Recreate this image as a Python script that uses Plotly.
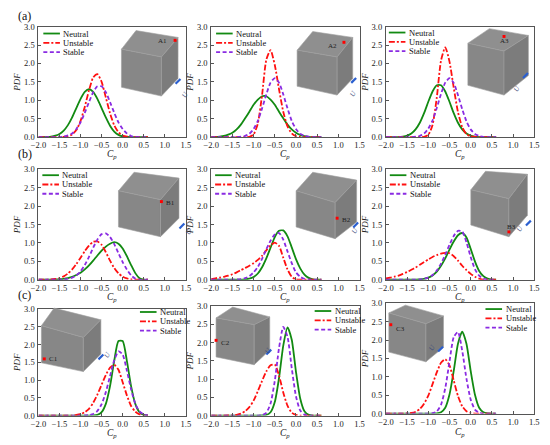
import plotly.graph_objects as go
from plotly.subplots import make_subplots

# the page puts the figure 8 px in from the top-left corner,
# so the figure is 542x437 and every position below is given in window pixels
OFF = 8
FW, FH = 550 - OFF, 445 - OFF

# Cp grid shared by every curve
CP = [-2.0, -1.9, -1.8, -1.7, -1.6, -1.5, -1.4, -1.3, -1.2, -1.1, -1.0, -0.9, -0.8,
      -0.7, -0.6, -0.5, -0.4, -0.3, -0.2, -0.1, 0.0, 0.1, 0.2, 0.3, 0.4, 0.5, 0.6]

# (a) roof points A1-A3
a1_neutral = [0, 0, 0.005, 0.014, 0.037, 0.086, 0.176, 0.325, 0.535, 0.79, 1.04, 1.23, 1.30,
              1.23, 1.04, 0.79, 0.535, 0.31, 0.15, 0.06, 0.02, 0.005, 0, 0, 0, 0, 0]
a1_unstable = [0, 0, 0, 0, 0, 0, 0.005, 0.02, 0.072, 0.19, 0.44, 0.82, 1.27,
               1.62, 1.71, 1.50, 1.08, 0.65, 0.32, 0.13, 0.045, 0.013, 0, 0, 0, 0, 0]
a1_stable = [0, 0, 0, 0, 0, 0, 0.016, 0.044, 0.10, 0.22, 0.40, 0.66, 0.95,
             1.22, 1.38, 1.38, 1.22, 0.95, 0.66, 0.40, 0.22, 0.10, 0.03, 0.005, 0, 0, 0]

a2_neutral = [0.0025, 0.006, 0.015, 0.032, 0.065, 0.12, 0.21, 0.34, 0.51, 0.69, 0.88, 1.02, 1.11,
              1.11, 1.02, 0.88, 0.69, 0.51, 0.34, 0.21, 0.12, 0.06, 0.025, 0.008, 0, 0, 0]
a2_unstable = [0, 0, 0, 0, 0, 0, 0, 0, 0, 0.008, 0.073, 0.37, 1.14,
               2.10, 2.36, 1.96, 1.30, 0.69, 0.29, 0.10, 0.026, 0.005, 0, 0, 0, 0, 0]
a2_stable = [0, 0, 0, 0, 0, 0, 0, 0.01, 0.032, 0.09, 0.22, 0.44, 0.78,
             1.16, 1.48, 1.60, 1.48, 1.16, 0.78, 0.44, 0.22, 0.09, 0.032, 0.01, 0, 0, 0]

a3_neutral = [0, 0, 0, 0, 0.014, 0.04, 0.097, 0.21, 0.39, 0.65, 0.96, 1.24, 1.41,
              1.41, 1.24, 0.96, 0.65, 0.39, 0.21, 0.097, 0.04, 0.014, 0, 0, 0, 0, 0]
a3_unstable = [0, 0, 0, 0, 0, 0, 0, 0, 0, 0.007, 0.06, 0.33, 1.07,
               2.08, 2.44, 2.05, 1.34, 0.68, 0.27, 0.08, 0.02, 0.004, 0, 0, 0, 0, 0]
a3_stable = [0, 0, 0, 0, 0, 0, 0, 0.012, 0.035, 0.095, 0.23, 0.45, 0.79,
             1.17, 1.48, 1.60, 1.47, 1.14, 0.76, 0.43, 0.21, 0.085, 0.03, 0.008, 0, 0, 0]

# (b) side-face points B1-B3
b1_neutral = [0, 0, 0.002, 0.004, 0.007, 0.014, 0.026, 0.046, 0.077, 0.13, 0.19, 0.28, 0.39,
              0.52, 0.66, 0.79, 0.90, 0.98, 1.02, 0.98, 0.85, 0.64, 0.40, 0.18, 0.04, 0, 0]
b1_unstable = [0, 0, 0.004, 0.01, 0.022, 0.047, 0.093, 0.17, 0.28, 0.43, 0.60, 0.78, 0.93,
               1.03, 1.04, 0.95, 0.75, 0.52, 0.32, 0.175, 0.083, 0.035, 0.013, 0.004, 0, 0, 0]
b1_stable = [0, 0, 0, 0, 0, 0.003, 0.01, 0.024, 0.058, 0.12, 0.23, 0.40, 0.62,
             0.87, 1.09, 1.24, 1.26, 1.16, 0.97, 0.72, 0.48, 0.28, 0.12, 0.03, 0, 0, 0]

b2_neutral = [0, 0, 0, 0, 0, 0, 0, 0, 0.009, 0.028, 0.074, 0.17, 0.34,
              0.58, 0.87, 1.16, 1.33, 1.34, 1.18, 0.88, 0.56, 0.31, 0.14, 0.05, 0.01, 0, 0]
b2_unstable = [0.02, 0.04, 0.06, 0.08, 0.11, 0.15, 0.20, 0.26, 0.32, 0.38, 0.45, 0.54, 0.65,
               0.80, 0.93, 1.01, 0.92, 0.60, 0.28, 0.08, 0.01, 0, 0, 0, 0, 0, 0]
b2_stable = [0, 0, 0, 0, 0, 0, 0.006, 0.017, 0.043, 0.097, 0.20, 0.35, 0.57,
             0.83, 1.06, 1.23, 1.27, 1.09, 0.77, 0.45, 0.20, 0.08, 0.024, 0.005, 0, 0, 0]

b3_neutral = [0, 0, 0, 0, 0, 0, 0, 0.003, 0.01, 0.024, 0.056, 0.116, 0.22,
              0.38, 0.58, 0.82, 1.04, 1.21, 1.27, 1.15, 0.84, 0.50, 0.24, 0.097, 0.03, 0.005, 0]
b3_unstable = [0.04, 0.058, 0.084, 0.115, 0.158, 0.21, 0.27, 0.33, 0.41, 0.48, 0.55, 0.62, 0.67,
               0.71, 0.73, 0.72, 0.64, 0.52, 0.38, 0.26, 0.16, 0.08, 0.03, 0, 0, 0, 0]
b3_stable = [0, 0, 0, 0, 0, 0, 0, 0.003, 0.009, 0.025, 0.059, 0.128, 0.25,
             0.44, 0.68, 0.95, 1.19, 1.33, 1.31, 1.02, 0.62, 0.29, 0.11, 0.03, 0.005, 0, 0]

# (c) corner points C1-C3
c1_neutral = [0, 0, 0, 0, 0, 0, 0, 0, 0, 0, 0, 0, 0,
              0.003, 0.02, 0.096, 0.33, 0.83, 1.54, 2.10, 2.10, 1.54, 0.83, 0.33, 0.096, 0.02, 0.003]
c1_unstable = [0, 0, 0, 0, 0, 0, 0, 0, 0, 0.016, 0.04, 0.094, 0.19,
               0.36, 0.59, 0.87, 1.14, 1.35, 1.43, 1.29, 0.94, 0.57, 0.27, 0.11, 0.035, 0.009, 0]
c1_stable = [0, 0, 0, 0, 0, 0, 0, 0, 0, 0, 0, 0.003, 0.012,
             0.043, 0.13, 0.32, 0.66, 1.11, 1.56, 1.81, 1.72, 1.27, 0.74, 0.33, 0.12, 0.03, 0.005]

c2_neutral = [0, 0, 0, 0, 0, 0, 0, 0, 0, 0, 0, 0, 0.002,
              0.015, 0.09, 0.37, 1.03, 1.92, 2.42, 2.08, 1.20, 0.47, 0.12, 0.02, 0, 0, 0]
c2_unstable = [0, 0, 0, 0, 0.002, 0.008, 0.021, 0.052, 0.12, 0.23, 0.41, 0.67, 0.95,
               1.21, 1.38, 1.40, 1.10, 0.63, 0.27, 0.08, 0.02, 0, 0, 0, 0, 0, 0]
c2_stable = [0, 0, 0, 0, 0, 0, 0, 0, 0, 0, 0, 0, 0.012,
             0.077, 0.33, 0.95, 1.85, 2.43, 2.16, 1.30, 0.53, 0.14, 0.027, 0, 0, 0, 0]

c3_neutral = [0, 0, 0, 0, 0, 0, 0, 0, 0, 0, 0, 0, 0.006,
              0.037, 0.16, 0.52, 1.16, 1.90, 2.23, 1.90, 1.16, 0.52, 0.16, 0.037, 0.006, 0, 0]
c3_unstable = [0, 0, 0, 0, 0, 0.006, 0.018, 0.052, 0.126, 0.27, 0.49, 0.80, 1.12,
               1.38, 1.48, 1.31, 0.90, 0.48, 0.20, 0.065, 0.016, 0, 0, 0, 0, 0, 0]
c3_stable = [0, 0, 0, 0, 0, 0, 0, 0, 0, 0, 0.002, 0.011, 0.06,
             0.24, 0.69, 1.41, 2.08, 2.22, 1.71, 0.95, 0.38, 0.11, 0.023, 0, 0, 0, 0]

SERIES = ["Neutral", "Unstable", "Stable"]
POINTS = ["A1", "A2", "A3", "B1", "B2", "B3", "C1", "C2", "C3"]
X_TICKS = [-2.0, -1.5, -1.0, -0.5, 0.0, 0.5, 1.0, 1.5]
Y_TICKS = [0.0, 0.5, 1.0, 1.5, 2.0, 2.5, 3.0]

panel_data = [
    (a1_neutral, a1_unstable, a1_stable), (a2_neutral, a2_unstable, a2_stable),
    (a3_neutral, a3_unstable, a3_stable), (b1_neutral, b1_unstable, b1_stable),
    (b2_neutral, b2_unstable, b2_stable), (b3_neutral, b3_unstable, b3_stable),
    (c1_neutral, c1_unstable, c1_stable), (c2_neutral, c2_unstable, c2_stable),
    (c3_neutral, c3_unstable, c3_stable),
]

styles = {
    "Neutral": dict(color="#128a12", dash="solid"),
    "Unstable": dict(color="#ff1010", dash="6px,2px,2px,2px"),
    "Stable": dict(color="#8a2be2", dash="4px,2.5px"),
}

SERIF = "Liberation Serif"


def px(x, y):
    # window pixel -> paper fraction
    return (x - OFF) / FW, 1 - (y - OFF) / FH


# plot area of each panel in window pixels
col_px = [(31, 182), (208, 360), (387, 539)]
frame_px = [
    (22, 135), (22, 135), (22, 135),
    (168, 281), (168, 281), (168, 281),
    (311, 420), (308, 420), (305, 418),
]
# where the Cp title sits below each row
xtitle_y = [153, 153, 153, 299, 299, 299, 438, 438, 437]
# legend anchor: line start x, first row y
legend_px = [
    (36, 29), (213, 29), (390, 28),
    (35, 174), (212, 174), (391, 174),
    (135, 314), (314, 313), (489, 311),
]
# cube corners L, B, R, F, L-bottom, F-bottom, R-bottom
cubes = [
    [(116, 45), (131, 26), (174, 33), (157, 53), (116, 84), (157, 93), (174, 75)],
    [(296, 46), (312, 27), (353, 33), (337, 53), (296, 83), (337, 92), (353, 75)],
    [(471, 39), (493, 24), (533, 31), (508, 47), (471, 82), (508, 92), (533, 72)],
    [(113, 190), (129, 171), (175, 177), (156, 199), (113, 227), (156, 237), (175, 218)],
    [(295, 190), (312, 171), (357, 179), (335, 202), (295, 227), (335, 239), (357, 222)],
    [(474, 189), (489, 170), (532, 173), (513, 198), (474, 225), (513, 237), (532, 215)],
    [(34, 328), (47, 310), (95, 322), (77, 340), (34, 366), (77, 375), (95, 357)],
    [(213, 320), (230, 309), (268, 319), (252, 327), (213, 360), (252, 368), (268, 353)],
    [(390, 315), (407, 307), (446, 318), (428, 326), (390, 355), (428, 365), (446, 350)],
]
# red monitoring point and its label
point_px = [
    ((171, 36), (165, 37), "right"), ((344, 38), (339, 42), "right"), ((508, 32), (508, 37), "center"),
    ((157, 201), (160, 202), "left"), ((337, 218), (340, 220), "left"), ((513, 232), (516, 227), "center"),
    ((37, 362), (40, 362), "left"), ((213, 343), (216, 346), "left"), ((392, 327), (395, 331), "left"),
]
wind_px = [(174, 78), (354, 77), (530, 72), (178, 226), (356, 225), (533, 223),
           (95, 360), (267, 355), (443, 352)]

fig = make_subplots(rows=3, cols=3)
shapes = []
annotations = []

for i in range(9):
    r, c = i // 3 + 1, i % 3 + 1
    for name, ys in zip(SERIES, panel_data[i]):
        st = styles[name]
        fig.add_trace(go.Scatter(
            x=CP, y=ys, mode="lines", name=name, showlegend=False,
            line=dict(color=st["color"], dash=st["dash"], width=1.8,
                      shape="spline", smoothing=0.6)
        ), row=r, col=c)

    left, right = col_px[c - 1]
    top, bottom = frame_px[i]
    x0, y1 = px(left, top)
    x1, y0 = px(right, bottom)
    sfx = "" if i == 0 else str(i + 1)
    fig.layout["xaxis" + sfx].update(domain=[x0, x1])
    fig.layout["yaxis" + sfx].update(domain=[y0, y1])

    # x title as annotation so it stays inside the page
    tx, ty = px((left + right) / 2, xtitle_y[i])
    annotations.append(dict(x=tx, y=ty, xref="paper", yref="paper",
                            text="<i>C<sub>p</sub></i>", showarrow=False,
                            xanchor="center", yanchor="middle",
                            font=dict(family=SERIF, size=9.5, color="#222")))

    # cube inset
    L, B, R, F, Lb, Fb, Rb = [px(*p) for p in cubes[i]]
    faces = [([L, B, R, F], "#8f8f8f"), ([L, F, Fb, Lb], "#878787"), ([F, R, Rb, Fb], "#7c7c7c")]
    for pts, fill in faces:
        path = "M " + " L ".join(f"{x:.4f},{y:.4f}" for x, y in pts) + " Z"
        shapes.append(dict(type="path", path=path, xref="paper", yref="paper",
                           fillcolor=fill, line=dict(color="#a0a0a0", width=0.6), layer="above"))

    (dx, dy), (tx, ty), align = point_px[i]
    dx, dy = px(dx, dy)
    shapes.append(dict(type="rect", xref="paper", yref="paper",
                       x0=dx - 1.5 / FW, x1=dx + 1.5 / FW, y0=dy - 1.5 / FH, y1=dy + 1.5 / FH,
                       fillcolor="#ff0000", line=dict(width=0), layer="above"))
    tx, ty = px(tx, ty)
    annotations.append(dict(x=tx, y=ty, xref="paper", yref="paper", text=POINTS[i],
                            showarrow=False, xanchor=align, yanchor="middle",
                            font=dict(family=SERIF, size=7, color="#222")))

    wx, wy = wind_px[i]
    ax0, ay0 = px(wx - 2.5, wy + 2.5)
    ax1, ay1 = px(wx + 2.5, wy - 2.5)
    shapes.append(dict(type="line", xref="paper", yref="paper", x0=ax0, y0=ay0, x1=ax1, y1=ay1,
                       line=dict(color="#2a5fd0", width=2.2), layer="above"))
    ux, uy = px(wx - 1, wy + 6)
    annotations.append(dict(x=ux, y=uy, xref="paper", yref="paper", text="<i>U</i>",
                            showarrow=False, textangle=-60,
                            font=dict(family=SERIF, size=7, color="#3a4a7a")))

    # legend drawn per panel
    lx, ly = legend_px[i]
    for k, name in enumerate(SERIES):
        st = styles[name]
        yy = ly + k * 9.5
        xa, ya = px(lx, yy)
        xb, _ = px(lx + 17, yy)
        shapes.append(dict(type="line", xref="paper", yref="paper", x0=xa, y0=ya, x1=xb, y1=ya,
                           line=dict(color=st["color"], dash=st["dash"], width=1.8)))
        tx, _ = px(lx + 18.5, yy)
        annotations.append(dict(x=tx, y=ya, xref="paper", yref="paper", text=name,
                                showarrow=False, xanchor="left", yanchor="middle",
                                font=dict(family=SERIF, size=8.5, color="#111")))

for lab, y in [("(a)", 11), ("(b)", 152), ("(c)", 297)]:
    lxp, lyp = px(OFF, y)
    annotations.append(dict(x=lxp, y=lyp, xref="paper", yref="paper", text=lab,
                            showarrow=False, xanchor="left", yanchor="middle",
                            font=dict(family=SERIF, size=12, color="#111")))

axis_style = dict(showline=True, mirror=True, linecolor="#555", linewidth=1,
                  ticks="inside", ticklen=3, tickcolor="#555", showgrid=False, zeroline=False,
                  tickfont=dict(family=SERIF, size=8.5, color="#222"))
fig.update_xaxes(range=[-2.0, 1.5], tickvals=X_TICKS, tickformat=".1f", **axis_style)
fig.update_yaxes(range=[0, 3.0], tickvals=Y_TICKS, tickformat=".1f", ticklabelstandoff=1,
                 title=dict(text="<i>PDF</i>", standoff=1,
                            font=dict(family=SERIF, size=9, color="#222")), **axis_style)

fig.update_layout(width=FW, height=FH, margin=dict(l=0, r=0, t=0, b=0),
                  paper_bgcolor="white", plot_bgcolor="white",
                  shapes=shapes, annotations=annotations, showlegend=False)

fig.write_html("out.html")
